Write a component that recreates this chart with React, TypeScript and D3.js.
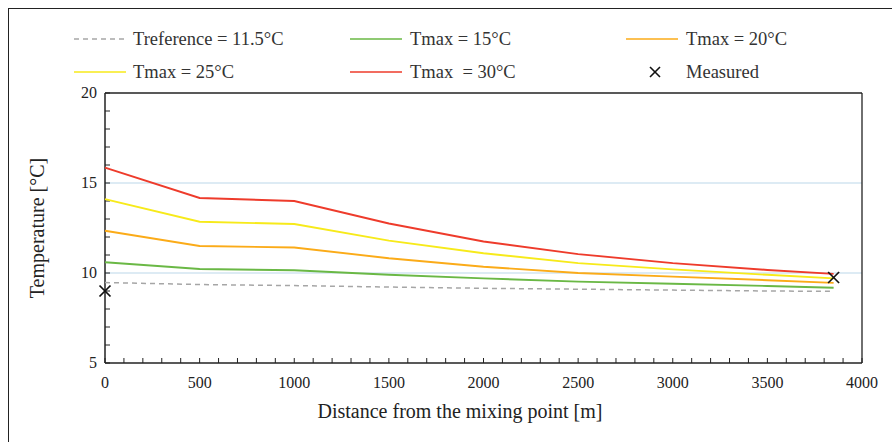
import React from "react";
import * as d3 from "d3";

const distances = [0, 500, 1000, 1500, 2000, 2500, 3000, 3500, 3850];
const tRef = [9.47, 9.36, 9.3, 9.22, 9.15, 9.1, 9.05, 9.0, 8.98];
const tmax15 = [10.6, 10.22, 10.15, 9.9, 9.7, 9.52, 9.4, 9.28, 9.18];
const tmax20 = [12.35, 11.5, 11.42, 10.82, 10.35, 10.0, 9.8, 9.6, 9.45];
const tmax25 = [14.1, 12.85, 12.72, 11.8, 11.1, 10.55, 10.2, 9.9, 9.7];
const tmax30 = [15.85, 14.17, 14.0, 12.75, 11.75, 11.05, 10.55, 10.17, 9.95];
const measuredX = [0, 3850];
const measuredY = [9.0, 9.75];
const xTicks = [0, 500, 1000, 1500, 2000, 2500, 3000, 3500, 4000];
const yTicks = [5, 10, 15, 20];

const series = [
  { name: "Treference = 11.5°C", values: tRef, color: "#a6a6a6", dash: "5,4" },
  { name: "Tmax = 15°C", values: tmax15, color: "#6ab845", dash: "" },
  { name: "Tmax = 20°C", values: tmax20, color: "#fbab18", dash: "" },
  { name: "Tmax = 25°C", values: tmax25, color: "#f7ea1a", dash: "" },
  { name: "Tmax  = 30°C", values: tmax30, color: "#ee3b2b", dash: "" },
];

export default function App() {
  const W = 892, H = 442;
  const x = d3.scaleLinear().domain([0, 4000]).range([105, 862]);
  const y = d3.scaleLinear().domain([5, 20]).range([363, 93]);
  const line = d3.line<[number, number]>().x((d) => x(d[0])).y((d) => y(d[1]));
  const font = "'Liberation Serif', 'Times New Roman', serif";
  const minorX = d3.range(0, 4001, 100);
  const minorY = d3.range(5, 21, 1);

  const legend = [
    { ...series[0], lx: 74, ly: 39, tx: 133 },
    { ...series[1], lx: 350, ly: 39, tx: 410 },
    { ...series[2], lx: 626, ly: 39, tx: 686 },
    { ...series[3], lx: 74, ly: 72, tx: 133 },
    { ...series[4], lx: 350, ly: 72, tx: 410 },
  ];

  return (
    <svg width={W} height={H} style={{ position: "fixed", left: 0, top: 0, display: "block", background: "#fff" }}>
      <rect x={8.5} y={8.5} width={W} height={H} fill="none" stroke="#222" strokeWidth={1} />
      {[10, 15].map((v) => (
        <line key={v} x1={x(0)} x2={x(4000)} y1={y(v)} y2={y(v)} stroke="#d2e5f1" strokeWidth={1.6} />
      ))}
      <line x1={x(0)} x2={x(4000)} y1={y(20)} y2={y(20)} stroke="#222" strokeWidth={1.3} />
      <line x1={x(4000)} x2={x(4000)} y1={y(20)} y2={y(5)} stroke="#222" strokeWidth={1.3} />
      <line x1={x(0)} x2={x(4000)} y1={y(5)} y2={y(5)} stroke="#222" strokeWidth={1.5} />
      <line x1={x(0)} x2={x(0)} y1={y(20)} y2={y(5)} stroke="#222" strokeWidth={1.5} />
      {minorX.map((v) => (
        <line key={"mx" + v} x1={x(v)} x2={x(v)} y1={y(5)} y2={y(5) - 5} stroke="#222" strokeWidth={1} />
      ))}
      {minorY.map((v) => (
        <line key={"my" + v} x1={x(0)} x2={x(0) + 5} y1={y(v)} y2={y(v)} stroke="#222" strokeWidth={1} />
      ))}
      {xTicks.map((v) => (
        <text key={"xt" + v} x={x(v)} y={388} textAnchor="middle" fontFamily={font} fontSize={16} fill="#222">
          {v}
        </text>
      ))}
      {yTicks.map((v) => (
        <text key={"yt" + v} x={97} y={y(v) + 5} textAnchor="end" fontFamily={font} fontSize={16} fill="#222">
          {v}
        </text>
      ))}
      <text x={460} y={418} textAnchor="middle" fontFamily={font} fontSize={20} fill="#222">
        Distance from the mixing point [m]
      </text>
      <text transform={`translate(44,228) rotate(-90)`} textAnchor="middle" fontFamily={font} fontSize={20} fill="#222">
        Temperature [°C]
      </text>
      {series.map((s) => (
        <path
          key={s.name}
          d={line(distances.map((d, i) => [d, s.values[i]] as [number, number])) || ""}
          fill="none"
          stroke={s.color}
          strokeWidth={s.dash ? 1.5 : 1.9}
          strokeDasharray={s.dash || undefined}
        />
      ))}
      {measuredX.map((mx, i) => {
        const cx = x(mx), cy = y(measuredY[i]);
        return (
          <g key={"m" + i} stroke="#111" strokeWidth={1.7}>
            <line x1={cx - 5.5} x2={cx + 5.5} y1={cy - 5.5} y2={cy + 5.5} />
            <line x1={cx - 5.5} x2={cx + 5.5} y1={cy + 5.5} y2={cy - 5.5} />
          </g>
        );
      })}
      {legend.map((l) => (
        <g key={"lg" + l.name}>
          <line x1={l.lx} x2={l.lx + 52} y1={l.ly} y2={l.ly} stroke={l.color} strokeWidth={1.6} strokeDasharray={l.dash || undefined} />
          <text x={l.tx} y={l.ly + 6} fontFamily={font} fontSize={18.5} fill="#333" style={{ whiteSpace: "pre" }}>
            {l.name}
          </text>
        </g>
      ))}
      <g stroke="#111" strokeWidth={1.6}>
        <line x1={650} x2={660} y1={67} y2={77} />
        <line x1={650} x2={660} y1={77} y2={67} />
      </g>
      <text x={686} y={78} fontFamily={font} fontSize={18.5} fill="#333">
        Measured
      </text>
    </svg>
  );
}
